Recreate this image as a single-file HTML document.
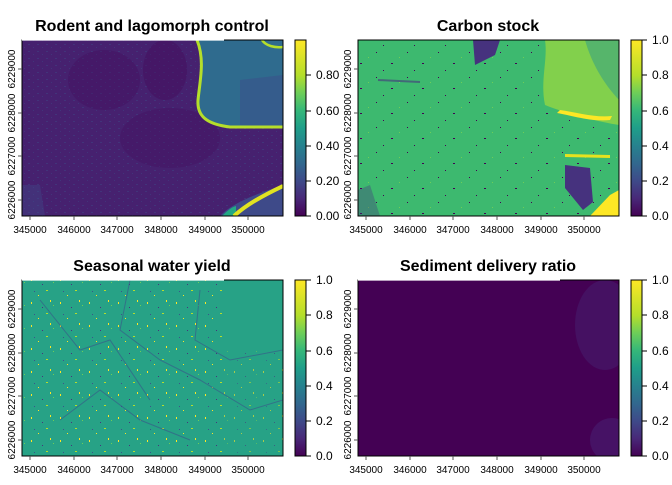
<!DOCTYPE html>
<html><head><meta charset="utf-8"><style>
body{margin:0;background:#fff}
svg text{font-family:"Liberation Sans",sans-serif}
</style></head><body>
<svg width="672" height="480" viewBox="0 0 672 480" xmlns="http://www.w3.org/2000/svg">
<defs>
<linearGradient id="vir" x1="0" y1="1" x2="0" y2="0">
<stop offset="0" stop-color="#440154"/><stop offset="0.1" stop-color="#482878"/><stop offset="0.2" stop-color="#3e4a89"/><stop offset="0.3" stop-color="#31688e"/><stop offset="0.4" stop-color="#26828e"/><stop offset="0.5" stop-color="#1f9e89"/><stop offset="0.6" stop-color="#35b779"/><stop offset="0.7" stop-color="#6ece58"/><stop offset="0.8" stop-color="#b5de2b"/><stop offset="1" stop-color="#fde725"/>
</linearGradient>
<pattern id="spk1" width="29" height="23" patternUnits="userSpaceOnUse">
<rect x="2" y="3" width="1" height="2" fill="#fde725"/><rect x="17" y="14" width="2" height="1" fill="#b5de2b"/><rect x="9" y="19" width="1" height="1" fill="#fde725"/><rect x="24" y="6" width="1" height="1" fill="#6ece58"/>
<rect x="13" y="8" width="1" height="1" fill="#46337e"/><rect x="5" y="15" width="1" height="1" fill="#3b528b"/><rect x="21" y="1" width="1" height="2" fill="#fde725"/>
</pattern>
<pattern id="spk2" width="31" height="25" patternUnits="userSpaceOnUse">
<rect x="4" y="2" width="1" height="1" fill="#440154"/><rect x="19" y="13" width="2" height="1" fill="#440154"/><rect x="11" y="20" width="1" height="1" fill="#440154"/><rect x="27" y="7" width="1" height="1" fill="#6ece58"/>
</pattern>
<pattern id="tex1" width="9" height="7" patternUnits="userSpaceOnUse">
<rect x="1" y="2" width="2" height="1" fill="#3b4f89" opacity="0.4"/><rect x="6" y="5" width="1" height="1" fill="#3b4f89" opacity="0.4"/>
</pattern>
</defs>

<!-- Panel 1 -->
<text x="152" y="31" font-size="16" font-weight="bold" text-anchor="middle">Rodent and lagomorph control</text>
<g>
<clipPath id="c1"><rect x="22" y="40" width="261" height="176"/></clipPath>
<g clip-path="url(#c1)">
<rect x="22" y="40" width="261" height="176" fill="#46216f"/>
<rect x="22" y="40" width="261" height="176" fill="url(#tex1)"/>
<ellipse cx="104" cy="80" rx="36" ry="30" fill="#440f5f" opacity="0.4"/>
<ellipse cx="165" cy="70" rx="22" ry="30" fill="#440d5d" opacity="0.5"/>
<ellipse cx="170" cy="138" rx="50" ry="30" fill="#440f5f" opacity="0.35"/>
<path d="M197 40 C205 60 200 80 197 100 C196 115 205 123 230 126 L283 127 L283 40 Z" fill="#2f6b8e"/>
<path d="M240 80 L283 75 L283 127 L240 125 Z" fill="#3b528b" opacity="0.6"/>
<path d="M197 40 C205 60 200 80 198 100 C197 115 205 124 230 127 L283 127" fill="none" stroke="#b5de2b" stroke-width="3"/>
<path d="M262 40 C266 46 275 48 283 47" fill="none" stroke="#b5de2b" stroke-width="2.5"/>
<path d="M22 185 L40 185 L45 216 L22 216 Z" fill="#3e4a89" opacity="0.4"/>
<path d="M220 216 C230 205 250 196 283 185 L283 216 Z" fill="#3e4a89"/>
<path d="M222 216 C228 210 232 207 236 206 L236 216 Z" fill="#22a884"/>
<path d="M234 216 C246 205 262 196 283 186" fill="none" stroke="#e0e321" stroke-width="4"/>
</g>
<rect x="22" y="40" width="261" height="176" fill="none" stroke="#000" stroke-width="1"/>
<line x1="22" y1="40" x2="224" y2="40" stroke="#fff" stroke-width="1.2"/>
</g>

<!-- Panel 2 -->
<text x="488" y="31" font-size="16" font-weight="bold" text-anchor="middle">Carbon stock</text>
<g>
<clipPath id="c2"><rect x="358" y="40" width="261" height="176"/></clipPath>
<g clip-path="url(#c2)">
<rect x="358" y="40" width="261" height="176" fill="#3db96f"/>
<rect x="358" y="40" width="261" height="176" fill="url(#spk2)"/>
<path d="M545 40 L619 40 L619 125 C600 122 570 115 545 105 C540 80 548 60 545 40 Z" fill="#82d04c"/>
<path d="M585 40 L619 40 L619 100 C605 85 592 65 585 40 Z" fill="#2a9a8a" opacity="0.5"/>
<path d="M557 113 C570 115 590 122 610 120 L612 116 C595 118 575 112 560 110 Z" fill="#fde725"/>
<path d="M565 154 L610 155 L610 158 L565 157 Z" fill="#e6e21f"/>
<path d="M565 165 L590 168 L593 202 L583 210 L565 188 Z" fill="#46327e"/>
<path d="M473 40 L500 40 L495 55 L475 65 Z" fill="#46327e"/>
<path d="M590 216 L610 195 L619 190 L619 216 Z" fill="#fde725"/>
<path d="M358 190 L370 185 L380 216 L358 216 Z" fill="#46337e" opacity="0.35"/>
<path d="M378 80 L420 82" stroke="#46337e" stroke-width="2" fill="none" opacity="0.6"/>
</g>
<rect x="358" y="40" width="261" height="176" fill="none" stroke="#000"/>
</g>

<!-- Panel 3 -->
<text x="152" y="271" font-size="16" font-weight="bold" text-anchor="middle">Seasonal water yield</text>
<g>
<clipPath id="c3"><rect x="22" y="280" width="261" height="176"/></clipPath>
<g clip-path="url(#c3)">
<rect x="22" y="280" width="261" height="176" fill="#27a286"/>
<rect x="22" y="280" width="200" height="176" fill="url(#spk1)"/>
<rect x="222" y="350" width="61" height="106" fill="url(#spk1)" opacity="0.6"/>
<path d="M40 300 L80 350 L110 340 L150 400 M130 280 L120 330 L160 360 L200 380 L250 410 L283 400 M60 420 L100 390 L140 420 L190 440 M200 290 L195 340 L230 360 L283 350" stroke="#3b528b" stroke-width="1" fill="none" opacity="0.6"/>
</g>
<rect x="22" y="280" width="261" height="176" fill="none" stroke="#000"/>
<line x1="22" y1="280" x2="224" y2="280" stroke="#fff" stroke-width="1.2"/>
</g>

<!-- Panel 4 -->
<text x="488" y="271" font-size="16" font-weight="bold" text-anchor="middle">Sediment delivery ratio</text>
<g>
<clipPath id="c4"><rect x="358" y="280" width="261" height="176"/></clipPath>
<g clip-path="url(#c4)">
<rect x="358" y="280" width="261" height="176" fill="#440154"/>
<ellipse cx="605" cy="325" rx="30" ry="45" fill="#46216f" opacity="0.5"/>
<ellipse cx="612" cy="440" rx="22" ry="22" fill="#482475" opacity="0.5"/>
</g>
<rect x="358" y="280" width="261" height="176" fill="none" stroke="#000"/>
<line x1="358" y1="280" x2="560" y2="280" stroke="#fff" stroke-width="1.2"/>
</g>

<!-- colorbars -->
<g font-size="12" fill="#000">
<rect x="295" y="40" width="11" height="176" fill="url(#vir)" stroke="#000"/>
<g stroke="#000"><line x1="306" y1="216" x2="311" y2="216"/><line x1="306" y1="181" x2="311" y2="181"/><line x1="306" y1="146" x2="311" y2="146"/><line x1="306" y1="111" x2="311" y2="111"/><line x1="306" y1="75" x2="311" y2="75"/></g>
<text x="316" y="220">0.00</text><text x="316" y="185">0.20</text><text x="316" y="150">0.40</text><text x="316" y="115">0.60</text><text x="316" y="79">0.80</text>

<rect x="631" y="40" width="11" height="176" fill="url(#vir)" stroke="#000"/>
<g stroke="#000"><line x1="642" y1="216" x2="647" y2="216"/><line x1="642" y1="181" x2="647" y2="181"/><line x1="642" y1="146" x2="647" y2="146"/><line x1="642" y1="111" x2="647" y2="111"/><line x1="642" y1="75" x2="647" y2="75"/><line x1="642" y1="40" x2="647" y2="40"/></g>
<text x="652" y="220">0.0</text><text x="652" y="185">0.2</text><text x="652" y="150">0.4</text><text x="652" y="115">0.6</text><text x="652" y="79">0.8</text><text x="652" y="44">1.0</text>

<rect x="295" y="280" width="11" height="176" fill="url(#vir)" stroke="#000"/>
<g stroke="#000"><line x1="306" y1="456" x2="311" y2="456"/><line x1="306" y1="421" x2="311" y2="421"/><line x1="306" y1="386" x2="311" y2="386"/><line x1="306" y1="351" x2="311" y2="351"/><line x1="306" y1="315" x2="311" y2="315"/><line x1="306" y1="280" x2="311" y2="280"/></g>
<text x="316" y="460">0.0</text><text x="316" y="425">0.2</text><text x="316" y="390">0.4</text><text x="316" y="355">0.6</text><text x="316" y="319">0.8</text><text x="316" y="284">1.0</text>

<rect x="631" y="280" width="11" height="176" fill="url(#vir)" stroke="#000"/>
<g stroke="#000"><line x1="642" y1="456" x2="647" y2="456"/><line x1="642" y1="421" x2="647" y2="421"/><line x1="642" y1="386" x2="647" y2="386"/><line x1="642" y1="351" x2="647" y2="351"/><line x1="642" y1="315" x2="647" y2="315"/><line x1="642" y1="280" x2="647" y2="280"/></g>
<text x="652" y="460">0.0</text><text x="652" y="425">0.2</text><text x="652" y="390">0.4</text><text x="652" y="355">0.6</text><text x="652" y="319">0.8</text><text x="652" y="284">1.0</text>
</g>

<!-- axes ticks/labels -->
<g font-size="10" fill="#000" text-anchor="middle">
<g id="ax1">
<g stroke="#555"><line x1="30" y1="216" x2="30" y2="220"/><line x1="74" y1="216" x2="74" y2="220"/><line x1="117" y1="216" x2="117" y2="220"/><line x1="161" y1="216" x2="161" y2="220"/><line x1="205" y1="216" x2="205" y2="220"/><line x1="248" y1="216" x2="248" y2="220"/>
<line x1="18" y1="69" x2="22" y2="69"/><line x1="18" y1="113" x2="22" y2="113"/><line x1="18" y1="156" x2="22" y2="156"/><line x1="18" y1="200" x2="22" y2="200"/></g>
<text x="30" y="233">345000</text><text x="74" y="233">346000</text><text x="117" y="233">347000</text><text x="161" y="233">348000</text><text x="205" y="233">349000</text><text x="248" y="233">350000</text>
<text transform="translate(15,69) rotate(-90)">6229000</text><text transform="translate(15,113) rotate(-90)">6228000</text><text transform="translate(15,156) rotate(-90)">6227000</text><text transform="translate(15,200) rotate(-90)">6226000</text>
</g>
<use href="#ax1" x="336" y="0"/>
<use href="#ax1" x="0" y="240"/>
<use href="#ax1" x="336" y="240"/>
</g>
</svg>
</body></html>
